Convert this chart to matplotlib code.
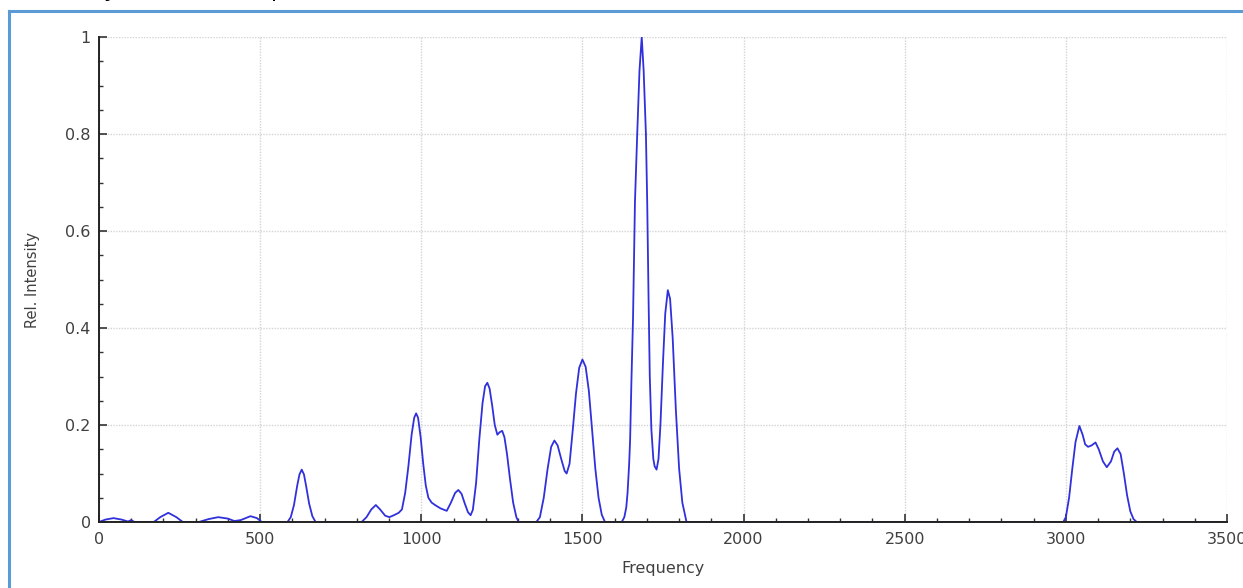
import matplotlib
matplotlib.use("Agg")
import matplotlib.pyplot as plt
from matplotlib.ticker import MultipleLocator, FixedLocator
from matplotlib.lines import Line2D

# ---- data ----
frequency = [
    0, 20, 45, 70, 90, 100, 110, 170, 190, 215, 240, 260, 310, 340, 370, 400,
    420, 440, 470, 490, 505, 585,
    595, 605, 615, 622, 629, 636, 643, 652, 662, 672, 815,
    830, 845, 859, 872, 888, 901, 915, 930, 940, 950, 960, 970, 978, 984, 990,
    998, 1006, 1014, 1022, 1032, 1045, 1060, 1079, 1092, 1105, 1115, 1125,
    1135, 1145, 1153, 1160, 1170, 1180, 1190, 1198, 1205, 1212, 1220, 1228,
    1236, 1243, 1251, 1258, 1266, 1275, 1285, 1295, 1302, 1357,
    1368, 1380, 1392, 1403, 1413, 1423, 1435, 1445, 1451, 1460, 1470, 1480,
    1490, 1500, 1510, 1520, 1530, 1540, 1550, 1560, 1570, 1622,
    1630, 1636, 1640, 1645, 1648, 1652, 1657, 1663, 1670, 1677, 1684, 1690,
    1697, 1701, 1705, 1709, 1714, 1720, 1724, 1730, 1736, 1742, 1750, 1757,
    1765, 1772, 1780, 1790, 1800, 1810, 1823, 2992,
    3000, 3010, 3020, 3030, 3042, 3052, 3060, 3069, 3080, 3092, 3102, 3115,
    3127, 3140, 3150, 3160, 3170, 3180, 3190, 3200, 3210, 3220, 3500,
]
intensity = [
    0.0, 0.005, 0.008, 0.005, 0.001, 0.004, 0.0, 0.0, 0.010, 0.019, 0.010, 0.0,
    0.0, 0.006, 0.010, 0.007,
    0.002, 0.004, 0.012, 0.008, 0.0, 0.0,
    0.010, 0.035, 0.075, 0.098, 0.108, 0.098, 0.073, 0.038, 0.012, 0.0, 0.0,
    0.010, 0.026, 0.035, 0.026, 0.013, 0.010, 0.014, 0.019, 0.026, 0.060,
    0.115, 0.180, 0.215, 0.224, 0.215,
    0.175, 0.120, 0.075, 0.050, 0.040, 0.034, 0.028, 0.023, 0.040, 0.060,
    0.066, 0.058,
    0.038, 0.020, 0.014, 0.025, 0.080, 0.170, 0.245, 0.280, 0.287, 0.275,
    0.240, 0.200,
    0.180, 0.185, 0.188, 0.175, 0.140, 0.090, 0.040, 0.010, 0.0, 0.0,
    0.010, 0.050, 0.110, 0.155, 0.168, 0.158, 0.128, 0.105, 0.100, 0.120,
    0.190, 0.265,
    0.318, 0.335, 0.320, 0.270, 0.190, 0.110, 0.050, 0.015, 0.0, 0.0,
    0.010, 0.030, 0.060, 0.120, 0.170, 0.290, 0.420, 0.660, 0.800, 0.930,
    1.0, 0.930,
    0.800, 0.660, 0.470, 0.300, 0.190, 0.130, 0.115, 0.108, 0.130, 0.200,
    0.330, 0.430,
    0.478, 0.460, 0.380, 0.230, 0.110, 0.040, 0.0, 0.0,
    0.010, 0.050, 0.110, 0.165, 0.198, 0.180, 0.160, 0.155, 0.158, 0.164,
    0.150, 0.125,
    0.113, 0.125, 0.145, 0.152, 0.140, 0.100, 0.055, 0.022, 0.006, 0.0, 0.0,
]
x_ticks = [0, 500, 1000, 1500, 2000, 2500, 3000, 3500]
x_tick_labels = ["0", "500", "1000", "1500", "2000", "2500", "3000", "3500"]
y_ticks = [0, 0.2, 0.4, 0.6, 0.8, 1.0]
y_tick_labels = ["0", "0.2", "0.4", "0.6", "0.8", "1"]
x_label = "Frequency"
y_label = "Rel. Intensity"

# ---- figure ----
W, H = 1243, 588
fig = plt.figure(figsize=(W / 100, H / 100), dpi=100)
fig.patch.set_facecolor("white")

ax = fig.add_axes([99 / W, 1 - 522 / H, (1227 - 99) / W, (522 - 37) / H])
ax.plot(frequency, intensity, color="#3030dc", lw=1.3, solid_joinstyle="round")

ax.set_xlim(0, 3500)
ax.set_ylim(0, 1)
ax.xaxis.set_major_locator(FixedLocator(x_ticks))
ax.set_xticklabels(x_tick_labels)
ax.yaxis.set_major_locator(FixedLocator(y_ticks))
ax.set_yticklabels(y_tick_labels)
ax.xaxis.set_minor_locator(MultipleLocator(100))
ax.yaxis.set_minor_locator(MultipleLocator(0.05))

ax.grid(True, which="major", color="#d4d4d4", lw=1.0, ls=(0, (1, 1)))
ax.set_axisbelow(True)
for s in ["top", "right"]:
    ax.spines[s].set_visible(False)
for s in ["left", "bottom"]:
    ax.spines[s].set_color("#222222")
    ax.spines[s].set_linewidth(1.4)

ax.tick_params(which="major", direction="in", length=6, width=1.2,
               color="#333333", labelsize=11.5, labelcolor="#404040")
ax.tick_params(axis="x", which="major", pad=7)
ax.tick_params(axis="y", which="major", pad=6)
ax.tick_params(which="minor", direction="in", length=3, width=1.0,
               color="#333333")
ax.set_xlabel(x_label, fontsize=11.5, color="#404040", labelpad=10)
ax.set_ylabel(y_label, fontsize=10.5, color="#404040", labelpad=18)

# document frame (blue border around the figure)
fig.add_artist(Line2D([8.5 / W, 1.0], [1 - 11 / H, 1 - 11 / H],
                      transform=fig.transFigure, color="#5b9bd5", lw=2.2))
fig.add_artist(Line2D([8.5 / W, 8.5 / W], [0.0, 1 - 11 / H],
                      transform=fig.transFigure, color="#5b9bd5", lw=2.2))

# fragments of document text cut off above the frame
fig.text(110 / W, 1 + 3 / H, "y", fontsize=16, color="black",
         ha="center", va="baseline")
fig.text(278 / W, 1 + 3 / H, "p", fontsize=16, color="black",
         ha="center", va="baseline")

fig.savefig("out.png", dpi=100)
